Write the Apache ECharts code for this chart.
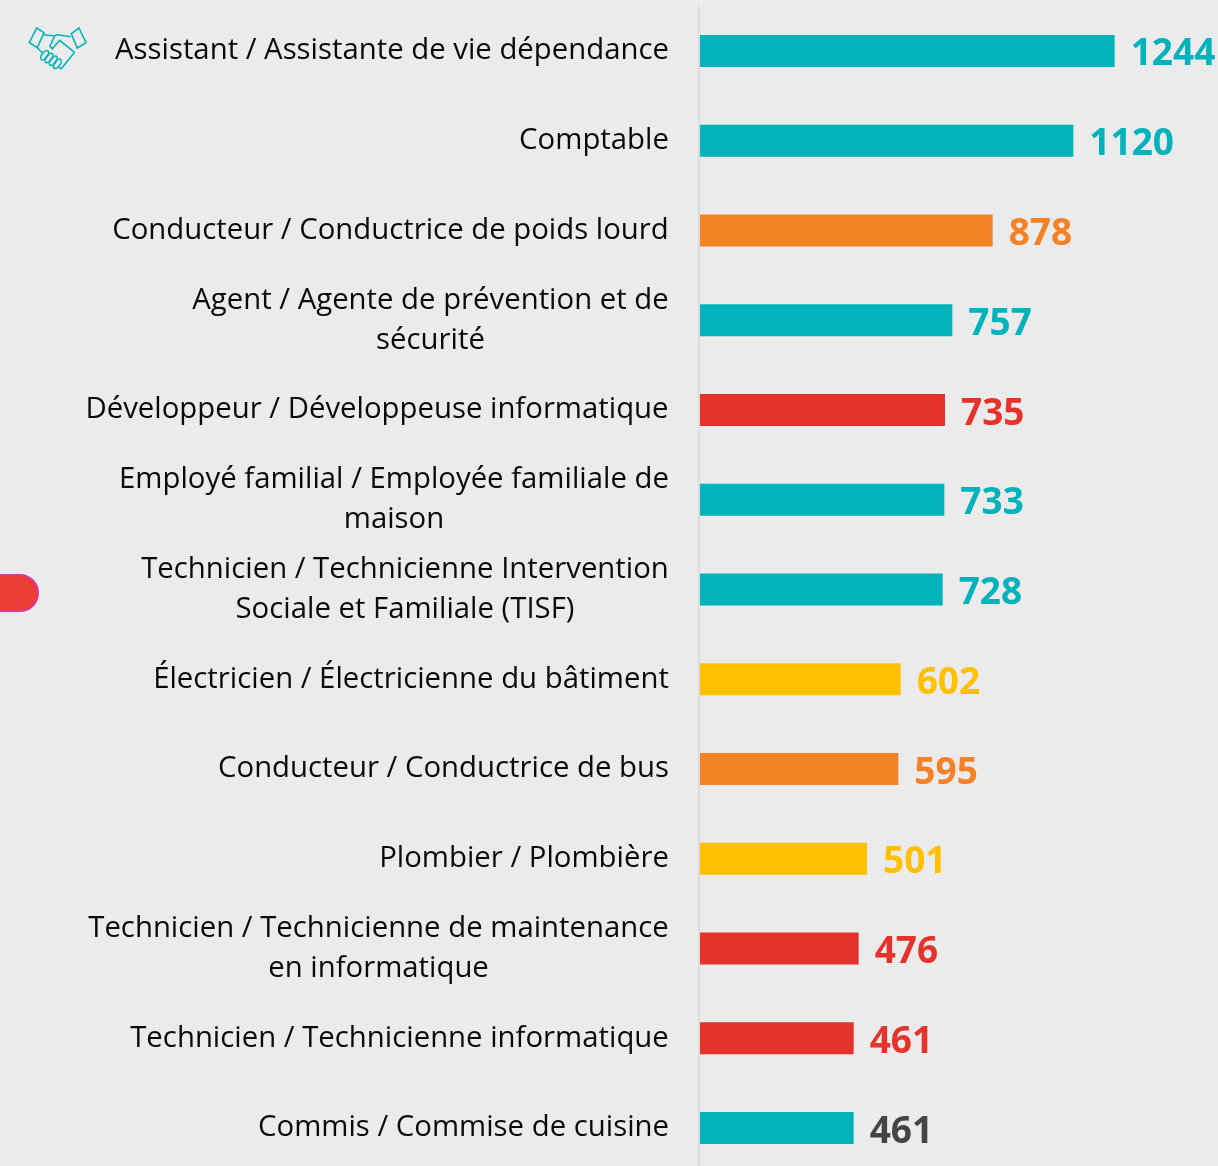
<!DOCTYPE html>
<html><head><meta charset="utf-8">
<style>html,body{margin:0;padding:0;background:#ebebeb;overflow:hidden;height:1166px}#c{width:1218px;height:1190px}</style>
<script src="https://cdn.jsdelivr.net/npm/echarts@6/dist/echarts.min.js"></script>
</head><body><div id="c"></div>
<script>
const categories = [
  "Assistant / Assistante de vie dépendance",
  "Comptable",
  "Conducteur / Conductrice de poids lourd",
  "Agent / Agente de prévention et de\nsécurité",
  "Développeur / Développeuse informatique",
  "Employé familial / Employée familiale de\nmaison",
  "Technicien / Technicienne Intervention\nSociale et Familiale (TISF)",
  "Électricien / Électricienne du bâtiment",
  "Conducteur / Conductrice de bus",
  "Plombier / Plombière",
  "Technicien / Technicienne de maintenance\nen informatique",
  "Technicien / Technicienne informatique",
  "Commis / Commise de cuisine"
];
const values = [1244,1120,878,757,735,733,728,602,595,501,476,461,461];
const teal='#02b3bb', orange='#f38125', red='#e5322b', yellow='#ffc000';
const barColors = [teal,teal,orange,teal,red,teal,teal,yellow,orange,yellow,red,red,teal];
const labelColors = [teal,teal,orange,teal,red,teal,teal,yellow,orange,yellow,red,red,'#444444'];

const FONT='"Open Sans"';
const LABEL_SIZE=29.33;
const TEXT='#0a0a0a';
const ctx=document.createElement('canvas').getContext('2d');
ctx.font=LABEL_SIZE+'px '+FONT;
const rich={};
categories.forEach((c,i)=>{
  const w=Math.max(...c.split('\n').map(s=>ctx.measureText(s).width));
  rich['w'+i]={width:Math.ceil(w),align:'center',fontFamily:FONT,fontSize:LABEL_SIZE,lineHeight:40,color:TEXT};
});
const iconStyle={fill:'none',stroke:teal,lineWidth:1.6};
const line=(points,closed)=>({type:closed?'polygon':'polyline',shape:{points},style:iconStyle});
const finger=(x,y)=>({type:'ellipse',x,y,rotation:-0.65,shape:{cx:0,cy:0,rx:2.8,ry:5.4},style:iconStyle});
const chart=echarts.init(document.getElementById('c'),null,{renderer:'canvas'});
chart.setOption({
  animation:false,
  backgroundColor:'#ebebeb',
  grid:{left:700,right:0,top:6,height:1167},
  xAxis:{type:'value',min:0,max:1554,show:false},
  yAxis:{type:'category',inverse:true,data:categories,offset:1,
    axisLine:{show:false},
    axisTick:{show:false},
    axisLabel:{margin:30,align:'right',interval:0,
      fontFamily:FONT,fontSize:LABEL_SIZE,lineHeight:40,color:TEXT,rich,
      formatter:(v,i)=>v.split('\n').map(s=>'{w'+i+'|'+s+'}').join('\n')}
  },
  series:[{type:'bar',barWidth:32,
    data:values.map((v,i)=>({value:v,itemStyle:{color:barColors[i]},
      label:{color:labelColors[i]}})),
    label:{show:true,position:'right',distance:16,offset:[0,4],fontFamily:FONT,fontWeight:'bold',fontSize:37}
  }],
  graphic:[
    {type:'rect',shape:{x:698,y:6,width:2,height:1160},style:{fill:'#dcdcdc'}},
    {type:'rect',shape:{x:-20,y:575,width:58,height:36,r:[0,18,18,0]},
     style:{fill:'#ea3d36',stroke:'#e0359a',lineWidth:2}},
    line([[36.7,28],[44,32.7],[37.3,47.7],[29.3,42.7]],true),
    line([[79,28],[86,42.7],[77.3,48],[71.3,33.7]],true),
    line([[44,34.7],[54,36],[57.3,34.7],[70.7,36.7]]),
    line([[74.7,52.7],[59.7,40.3],[52.3,48.7],[50,46],[54.7,36]]),
    line([[37.3,47.7],[42.3,52.7]]),
    line([[74,53],[70.7,57],[61.3,68.7],[59,67.7]]),
    finger(44.7,55.3),finger(49,58),finger(53.3,60.7),finger(57.3,63.7)
  ]
});
</script></body></html>
